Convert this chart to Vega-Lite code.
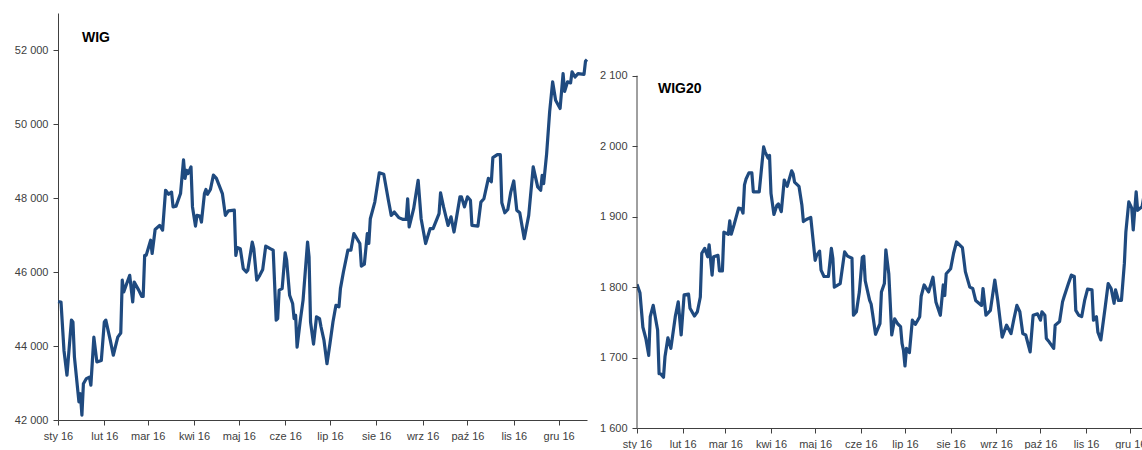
{
  "$schema": "https://vega.github.io/schema/vega-lite/v6.json",
  "padding": {"left": 14, "top": 13, "right": 0, "bottom": 0},
  "spacing": 10,
  "config": {
    "view": {"stroke": null},
    "font": "Liberation Sans",
    "axis": {
      "grid": false,
      "labelFont": "Liberation Sans",
      "labelFontSize": 11,
      "labelColor": "#404040",
      "domainColor": "#404040",
      "tickColor": "#404040",
      "domainWidth": 1,
      "tickWidth": 1,
      "tickSize": 5,
      "labelPadding": 5
    }
  },
  "datasets": {
    "wig": [
      {"date": "2016-01-01", "value": 45200}, {"date": "2016-01-03", "value": 45190}, {"date": "2016-01-05", "value": 43880},
      {"date": "2016-01-07", "value": 43210}, {"date": "2016-01-10", "value": 44700}, {"date": "2016-01-11", "value": 44650},
      {"date": "2016-01-12", "value": 43700}, {"date": "2016-01-15", "value": 42490}, {"date": "2016-01-16", "value": 42710},
      {"date": "2016-01-17", "value": 42130}, {"date": "2016-01-18", "value": 42980}, {"date": "2016-01-20", "value": 43120},
      {"date": "2016-01-22", "value": 43160}, {"date": "2016-01-23", "value": 42940}, {"date": "2016-01-25", "value": 44240},
      {"date": "2016-01-27", "value": 43570}, {"date": "2016-01-30", "value": 43610}, {"date": "2016-02-01", "value": 44650},
      {"date": "2016-02-02", "value": 44700}, {"date": "2016-02-05", "value": 44150}, {"date": "2016-02-07", "value": 43750},
      {"date": "2016-02-10", "value": 44240}, {"date": "2016-02-12", "value": 44350}, {"date": "2016-02-13", "value": 45780},
      {"date": "2016-02-14", "value": 45460}, {"date": "2016-02-16", "value": 45690}, {"date": "2016-02-18", "value": 45910},
      {"date": "2016-02-20", "value": 45190}, {"date": "2016-02-21", "value": 45730}, {"date": "2016-02-24", "value": 45510},
      {"date": "2016-02-26", "value": 45340}, {"date": "2016-02-27", "value": 45340}, {"date": "2016-02-28", "value": 46450},
      {"date": "2016-02-29", "value": 46450}, {"date": "2016-03-03", "value": 46860}, {"date": "2016-03-04", "value": 46500},
      {"date": "2016-03-06", "value": 47150}, {"date": "2016-03-09", "value": 47260}, {"date": "2016-03-11", "value": 47130},
      {"date": "2016-03-13", "value": 48210}, {"date": "2016-03-15", "value": 48100}, {"date": "2016-03-17", "value": 48160},
      {"date": "2016-03-18", "value": 47760}, {"date": "2016-03-20", "value": 47780}, {"date": "2016-03-23", "value": 48120},
      {"date": "2016-03-25", "value": 49030}, {"date": "2016-03-26", "value": 48530}, {"date": "2016-03-27", "value": 48750},
      {"date": "2016-03-28", "value": 48660}, {"date": "2016-03-30", "value": 48840}, {"date": "2016-03-31", "value": 47760},
      {"date": "2016-04-02", "value": 47240}, {"date": "2016-04-03", "value": 47530}, {"date": "2016-04-05", "value": 47510},
      {"date": "2016-04-06", "value": 47350}, {"date": "2016-04-08", "value": 48120}, {"date": "2016-04-09", "value": 48230},
      {"date": "2016-04-10", "value": 48100}, {"date": "2016-04-12", "value": 48230}, {"date": "2016-04-14", "value": 48620},
      {"date": "2016-04-16", "value": 48530}, {"date": "2016-04-20", "value": 48120}, {"date": "2016-04-22", "value": 47530},
      {"date": "2016-04-24", "value": 47650}, {"date": "2016-04-28", "value": 47670}, {"date": "2016-04-29", "value": 46450},
      {"date": "2016-04-30", "value": 46660}, {"date": "2016-05-02", "value": 46630}, {"date": "2016-05-04", "value": 46090},
      {"date": "2016-05-06", "value": 46000}, {"date": "2016-05-07", "value": 46050}, {"date": "2016-05-10", "value": 46810},
      {"date": "2016-05-11", "value": 46630}, {"date": "2016-05-13", "value": 45780}, {"date": "2016-05-15", "value": 45910},
      {"date": "2016-05-17", "value": 46070}, {"date": "2016-05-19", "value": 46700}, {"date": "2016-05-22", "value": 46630},
      {"date": "2016-05-24", "value": 46590}, {"date": "2016-05-26", "value": 44700}, {"date": "2016-05-27", "value": 44740},
      {"date": "2016-05-28", "value": 45510}, {"date": "2016-05-30", "value": 45550}, {"date": "2016-06-01", "value": 46520},
      {"date": "2016-06-02", "value": 46320}, {"date": "2016-06-04", "value": 45370}, {"date": "2016-06-06", "value": 45150},
      {"date": "2016-06-07", "value": 44740}, {"date": "2016-06-08", "value": 44830}, {"date": "2016-06-09", "value": 43970},
      {"date": "2016-06-11", "value": 44650}, {"date": "2016-06-13", "value": 45240}, {"date": "2016-06-16", "value": 46810},
      {"date": "2016-06-17", "value": 46410}, {"date": "2016-06-18", "value": 44650}, {"date": "2016-06-20", "value": 44050},
      {"date": "2016-06-22", "value": 44790}, {"date": "2016-06-24", "value": 44740}, {"date": "2016-06-25", "value": 44520},
      {"date": "2016-06-27", "value": 44150}, {"date": "2016-06-29", "value": 43520}, {"date": "2016-07-01", "value": 44070},
      {"date": "2016-07-03", "value": 44650}, {"date": "2016-07-05", "value": 45100}, {"date": "2016-07-07", "value": 45060},
      {"date": "2016-07-08", "value": 45550}, {"date": "2016-07-10", "value": 46000}, {"date": "2016-07-13", "value": 46590},
      {"date": "2016-07-15", "value": 46590}, {"date": "2016-07-17", "value": 47040}, {"date": "2016-07-21", "value": 46770},
      {"date": "2016-07-22", "value": 46160}, {"date": "2016-07-24", "value": 46210}, {"date": "2016-07-26", "value": 47040},
      {"date": "2016-07-27", "value": 46770}, {"date": "2016-07-28", "value": 47440}, {"date": "2016-07-31", "value": 47890},
      {"date": "2016-08-03", "value": 48680}, {"date": "2016-08-06", "value": 48640}, {"date": "2016-08-09", "value": 47960},
      {"date": "2016-08-11", "value": 47530}, {"date": "2016-08-13", "value": 47620}, {"date": "2016-08-16", "value": 47470},
      {"date": "2016-08-19", "value": 47420}, {"date": "2016-08-21", "value": 47420}, {"date": "2016-08-22", "value": 47980},
      {"date": "2016-08-23", "value": 47220}, {"date": "2016-08-26", "value": 47710}, {"date": "2016-08-29", "value": 48480},
      {"date": "2016-08-31", "value": 47440}, {"date": "2016-09-03", "value": 46770}, {"date": "2016-09-06", "value": 47170},
      {"date": "2016-09-08", "value": 47170}, {"date": "2016-09-12", "value": 47580}, {"date": "2016-09-13", "value": 48140},
      {"date": "2016-09-15", "value": 47760}, {"date": "2016-09-18", "value": 47260}, {"date": "2016-09-20", "value": 47490},
      {"date": "2016-09-22", "value": 47080}, {"date": "2016-09-23", "value": 47310}, {"date": "2016-09-26", "value": 48030},
      {"date": "2016-09-27", "value": 48030}, {"date": "2016-09-29", "value": 47760}, {"date": "2016-10-01", "value": 48030},
      {"date": "2016-10-03", "value": 47940}, {"date": "2016-10-04", "value": 47260}, {"date": "2016-10-08", "value": 47240},
      {"date": "2016-10-10", "value": 47890}, {"date": "2016-10-12", "value": 47980}, {"date": "2016-10-15", "value": 48530},
      {"date": "2016-10-17", "value": 48440}, {"date": "2016-10-18", "value": 49090}, {"date": "2016-10-21", "value": 49170},
      {"date": "2016-10-23", "value": 49170}, {"date": "2016-10-24", "value": 47870}, {"date": "2016-10-26", "value": 47600},
      {"date": "2016-10-28", "value": 47690}, {"date": "2016-10-30", "value": 48160}, {"date": "2016-11-01", "value": 48460},
      {"date": "2016-11-03", "value": 47670}, {"date": "2016-11-05", "value": 47600}, {"date": "2016-11-08", "value": 46900},
      {"date": "2016-11-11", "value": 47530}, {"date": "2016-11-14", "value": 48840}, {"date": "2016-11-17", "value": 48300},
      {"date": "2016-11-19", "value": 48210}, {"date": "2016-11-20", "value": 48610}, {"date": "2016-11-21", "value": 48390},
      {"date": "2016-11-23", "value": 49200}, {"date": "2016-11-25", "value": 50330}, {"date": "2016-11-27", "value": 51140},
      {"date": "2016-11-29", "value": 50640}, {"date": "2016-12-02", "value": 50420}, {"date": "2016-12-04", "value": 51360},
      {"date": "2016-12-05", "value": 50880}, {"date": "2016-12-07", "value": 51140}, {"date": "2016-12-09", "value": 51110},
      {"date": "2016-12-10", "value": 51410}, {"date": "2016-12-12", "value": 51270}, {"date": "2016-12-14", "value": 51360},
      {"date": "2016-12-18", "value": 51340}, {"date": "2016-12-19", "value": 51700}, {"date": "2016-12-20", "value": 51740}
    ],
    "wig20": [
      {"date": "2016-01-01", "value": 1804}, {"date": "2016-01-03", "value": 1792}, {"date": "2016-01-05", "value": 1743},
      {"date": "2016-01-07", "value": 1727}, {"date": "2016-01-09", "value": 1703}, {"date": "2016-01-10", "value": 1758},
      {"date": "2016-01-12", "value": 1774}, {"date": "2016-01-15", "value": 1739}, {"date": "2016-01-16", "value": 1677},
      {"date": "2016-01-17", "value": 1677}, {"date": "2016-01-19", "value": 1672}, {"date": "2016-01-20", "value": 1701},
      {"date": "2016-01-22", "value": 1728}, {"date": "2016-01-24", "value": 1713}, {"date": "2016-01-27", "value": 1758},
      {"date": "2016-01-29", "value": 1779}, {"date": "2016-01-31", "value": 1732}, {"date": "2016-02-02", "value": 1789},
      {"date": "2016-02-05", "value": 1790}, {"date": "2016-02-06", "value": 1770}, {"date": "2016-02-09", "value": 1759},
      {"date": "2016-02-11", "value": 1765}, {"date": "2016-02-13", "value": 1786}, {"date": "2016-02-14", "value": 1848},
      {"date": "2016-02-16", "value": 1855}, {"date": "2016-02-18", "value": 1843}, {"date": "2016-02-19", "value": 1860},
      {"date": "2016-02-21", "value": 1817}, {"date": "2016-02-22", "value": 1843}, {"date": "2016-02-25", "value": 1845},
      {"date": "2016-02-26", "value": 1823}, {"date": "2016-02-28", "value": 1823}, {"date": "2016-02-29", "value": 1878},
      {"date": "2016-03-03", "value": 1875}, {"date": "2016-03-04", "value": 1894}, {"date": "2016-03-05", "value": 1875},
      {"date": "2016-03-07", "value": 1889}, {"date": "2016-03-10", "value": 1912}, {"date": "2016-03-12", "value": 1911},
      {"date": "2016-03-13", "value": 1905}, {"date": "2016-03-14", "value": 1945}, {"date": "2016-03-15", "value": 1953},
      {"date": "2016-03-17", "value": 1962}, {"date": "2016-03-19", "value": 1962}, {"date": "2016-03-20", "value": 1935},
      {"date": "2016-03-24", "value": 1935}, {"date": "2016-03-27", "value": 1999}, {"date": "2016-03-28", "value": 1992},
      {"date": "2016-03-30", "value": 1983}, {"date": "2016-03-31", "value": 1987}, {"date": "2016-04-01", "value": 1933},
      {"date": "2016-04-03", "value": 1903}, {"date": "2016-04-05", "value": 1916}, {"date": "2016-04-06", "value": 1918},
      {"date": "2016-04-08", "value": 1907}, {"date": "2016-04-10", "value": 1952}, {"date": "2016-04-11", "value": 1947},
      {"date": "2016-04-12", "value": 1943}, {"date": "2016-04-15", "value": 1965}, {"date": "2016-04-16", "value": 1961},
      {"date": "2016-04-17", "value": 1949}, {"date": "2016-04-20", "value": 1943}, {"date": "2016-04-22", "value": 1916},
      {"date": "2016-04-23", "value": 1893}, {"date": "2016-04-25", "value": 1896}, {"date": "2016-04-28", "value": 1899},
      {"date": "2016-05-01", "value": 1838}, {"date": "2016-05-02", "value": 1845}, {"date": "2016-05-04", "value": 1851},
      {"date": "2016-05-05", "value": 1824}, {"date": "2016-05-07", "value": 1815}, {"date": "2016-05-10", "value": 1815},
      {"date": "2016-05-12", "value": 1855}, {"date": "2016-05-13", "value": 1841}, {"date": "2016-05-14", "value": 1800},
      {"date": "2016-05-18", "value": 1805}, {"date": "2016-05-21", "value": 1850}, {"date": "2016-05-23", "value": 1844},
      {"date": "2016-05-26", "value": 1841}, {"date": "2016-05-27", "value": 1760}, {"date": "2016-05-29", "value": 1765},
      {"date": "2016-05-31", "value": 1793}, {"date": "2016-06-02", "value": 1842}, {"date": "2016-06-03", "value": 1844},
      {"date": "2016-06-04", "value": 1809}, {"date": "2016-06-07", "value": 1781}, {"date": "2016-06-08", "value": 1776},
      {"date": "2016-06-09", "value": 1762}, {"date": "2016-06-11", "value": 1733}, {"date": "2016-06-14", "value": 1748},
      {"date": "2016-06-15", "value": 1793}, {"date": "2016-06-17", "value": 1805}, {"date": "2016-06-18", "value": 1853},
      {"date": "2016-06-20", "value": 1819}, {"date": "2016-06-21", "value": 1777}, {"date": "2016-06-22", "value": 1732},
      {"date": "2016-06-24", "value": 1755}, {"date": "2016-06-26", "value": 1748}, {"date": "2016-06-28", "value": 1744},
      {"date": "2016-06-29", "value": 1720}, {"date": "2016-06-30", "value": 1710}, {"date": "2016-07-01", "value": 1688},
      {"date": "2016-07-02", "value": 1713}, {"date": "2016-07-04", "value": 1707}, {"date": "2016-07-06", "value": 1753},
      {"date": "2016-07-08", "value": 1747}, {"date": "2016-07-11", "value": 1758}, {"date": "2016-07-12", "value": 1787},
      {"date": "2016-07-14", "value": 1803}, {"date": "2016-07-17", "value": 1793}, {"date": "2016-07-20", "value": 1814},
      {"date": "2016-07-22", "value": 1779}, {"date": "2016-07-25", "value": 1760}, {"date": "2016-07-27", "value": 1803},
      {"date": "2016-07-28", "value": 1788}, {"date": "2016-07-29", "value": 1819}, {"date": "2016-08-01", "value": 1826},
      {"date": "2016-08-03", "value": 1848}, {"date": "2016-08-05", "value": 1864}, {"date": "2016-08-09", "value": 1856},
      {"date": "2016-08-11", "value": 1822}, {"date": "2016-08-14", "value": 1800}, {"date": "2016-08-16", "value": 1798},
      {"date": "2016-08-18", "value": 1781}, {"date": "2016-08-22", "value": 1774}, {"date": "2016-08-23", "value": 1798},
      {"date": "2016-08-25", "value": 1760}, {"date": "2016-08-28", "value": 1767}, {"date": "2016-08-31", "value": 1810},
      {"date": "2016-09-02", "value": 1781}, {"date": "2016-09-05", "value": 1729}, {"date": "2016-09-08", "value": 1746},
      {"date": "2016-09-11", "value": 1734}, {"date": "2016-09-13", "value": 1755}, {"date": "2016-09-15", "value": 1774},
      {"date": "2016-09-17", "value": 1765}, {"date": "2016-09-19", "value": 1734}, {"date": "2016-09-21", "value": 1732},
      {"date": "2016-09-24", "value": 1708}, {"date": "2016-09-26", "value": 1760}, {"date": "2016-09-29", "value": 1762},
      {"date": "2016-10-01", "value": 1753}, {"date": "2016-10-02", "value": 1765}, {"date": "2016-10-04", "value": 1760},
      {"date": "2016-10-05", "value": 1727}, {"date": "2016-10-07", "value": 1722}, {"date": "2016-10-10", "value": 1713},
      {"date": "2016-10-11", "value": 1746}, {"date": "2016-10-14", "value": 1751}, {"date": "2016-10-16", "value": 1779},
      {"date": "2016-10-17", "value": 1786}, {"date": "2016-10-20", "value": 1805}, {"date": "2016-10-22", "value": 1817},
      {"date": "2016-10-24", "value": 1815}, {"date": "2016-10-25", "value": 1767}, {"date": "2016-10-27", "value": 1760},
      {"date": "2016-10-29", "value": 1758}, {"date": "2016-10-31", "value": 1781}, {"date": "2016-11-02", "value": 1797},
      {"date": "2016-11-05", "value": 1796}, {"date": "2016-11-06", "value": 1753}, {"date": "2016-11-08", "value": 1758},
      {"date": "2016-11-09", "value": 1736}, {"date": "2016-11-11", "value": 1725}, {"date": "2016-11-14", "value": 1772},
      {"date": "2016-11-16", "value": 1805}, {"date": "2016-11-18", "value": 1798}, {"date": "2016-11-20", "value": 1777},
      {"date": "2016-11-21", "value": 1796}, {"date": "2016-11-23", "value": 1781}, {"date": "2016-11-25", "value": 1781},
      {"date": "2016-11-27", "value": 1834}, {"date": "2016-11-28", "value": 1878}, {"date": "2016-11-30", "value": 1921},
      {"date": "2016-12-02", "value": 1912}, {"date": "2016-12-03", "value": 1881}, {"date": "2016-12-05", "value": 1935},
      {"date": "2016-12-06", "value": 1909}, {"date": "2016-12-09", "value": 1914}, {"date": "2016-12-11", "value": 1938},
      {"date": "2016-12-14", "value": 1945}
    ]
  },
  "hconcat": [
    {
      "width": 529,
      "height": 407,
      "title": {"text": "WIG", "anchor": "start", "frame": "group", "offset": -43, "dx": 24, "baseline": "alphabetic", "fontSize": 14, "fontWeight": "bold", "font": "Liberation Sans", "color": "#000000"},
      "data": {"name": "wig", "format": {"parse": {"date": "date:'%Y-%m-%d'"}}},
      "mark": {"type": "line", "color": "#1f4a7f", "strokeWidth": 3.2, "strokeJoin": "round"},
      "encoding": {
        "x": {
          "field": "date", "type": "temporal", "title": null,
          "scale": {"domain": [{"year": 2016, "month": 1, "date": 1}, {"year": 2016, "month": 12, "date": 20}]},
          "axis": {"tickCount": {"interval": "month", "step": 1}, "labelFlush": false, "labelOverlap": false,
                   "labelExpr": "['sty','lut','mar','kwi','maj','cze','lip','sie','wrz','paź','lis','gru'][month(datum.value)] + ' ' + timeFormat(datum.value, '%y')"}
        },
        "y": {
          "field": "value", "type": "quantitative", "title": null,
          "scale": {"domain": [42000, 53000], "nice": false, "zero": false},
          "axis": {"values": [42000, 44000, 46000, 48000, 50000, 52000], "labelExpr": "replace(format(datum.value, ','), ',', ' ')"}
        }
      }
    },
    {
      "width": 508,
      "height": 415,
      "title": {"text": "WIG20", "anchor": "start", "frame": "group", "offset": -94, "dx": 21, "baseline": "alphabetic", "fontSize": 14, "fontWeight": "bold", "font": "Liberation Sans", "color": "#000000"},
      "layer": [
        {
          "data": {"name": "wig20", "format": {"parse": {"date": "date:'%Y-%m-%d'"}}},
          "mark": {"type": "line", "color": "#1f4a7f", "strokeWidth": 3.2, "strokeJoin": "round", "clip": true},
          "encoding": {
            "x": {
              "field": "date", "type": "temporal", "title": null,
              "scale": {"domain": [{"year": 2016, "month": 1, "date": 1}, {"year": 2016, "month": 12, "date": 11}]},
              "axis": {"tickCount": {"interval": "month", "step": 1}, "labelFlush": false, "labelOverlap": false,
                       "labelExpr": "['sty','lut','mar','kwi','maj','cze','lip','sie','wrz','paź','lis','gru'][month(datum.value)] + ' ' + timeFormat(datum.value, '%y')"}
            },
            "y": {
              "field": "value", "type": "quantitative", "title": null,
              "scale": {"domain": [1600, 2189], "nice": false, "zero": false},
              "axis": {"values": [1600, 1700, 1800, 1900, 2000, 2100], "domain": false, "labelExpr": "replace(format(datum.value, ','), ',', ' ')"}
            }
          }
        },
        {
          "data": {"values": [{}]},
          "mark": {"type": "rule", "color": "#404040", "strokeWidth": 1},
          "encoding": {
            "x": {"datum": {"year": 2016, "month": 1, "date": 1}, "type": "temporal"},
            "y": {"datum": 1600, "type": "quantitative"},
            "y2": {"datum": 2100}
          }
        }
      ]
    }
  ]
}
